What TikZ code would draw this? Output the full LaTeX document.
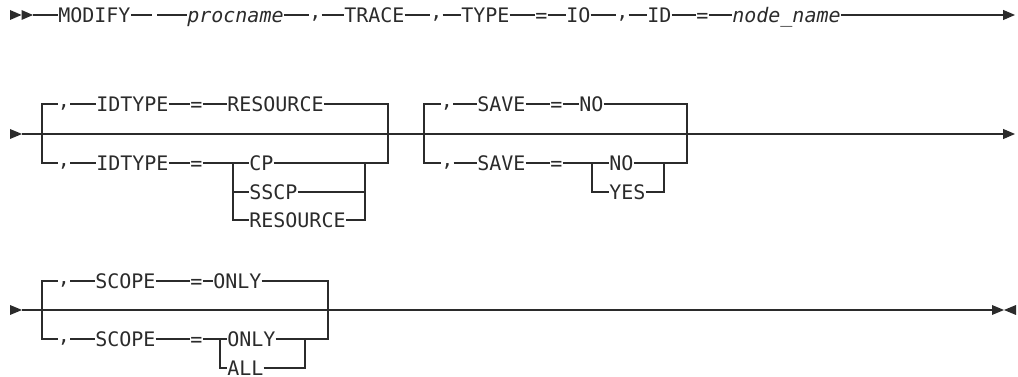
\documentclass[tikz,border=0pt]{standalone}
\usepackage{fontspec}
\setmonofont{DejaVu Sans Mono}
\usepackage{xcolor}
\usepackage{tikz}
\usetikzlibrary{arrows.meta}

\definecolor{ink}{HTML}{2B2B2B}
\tikzset{
  kw/.style={anchor=west, inner sep=0pt, text height=10.9pt, text depth=0pt, text=ink, font=\ttfamily\fontsize{15}{18}\selectfont},
  var/.style={kw, font=\ttfamily\itshape\fontsize{15}{18}\selectfont},
  rail/.style={draw=ink, line width=0.9pt},
  endarrow/.style={-{Triangle[length=9pt,width=7.5pt]}},
}
\newcommand{\cm}{\raisebox{2.5pt}{,}}

\begin{document}
\begin{tikzpicture}[x=0.75pt, y=-0.75pt]
            \useasboundingbox (0,0) rectangle (1018,377);

            % first line
            \fill[ink] (10,10) -- (21.5,15) -- (10,20) -- cycle;
            \fill[ink] (21.5,10) -- (33,15) -- (21.5,20) -- cycle;
            \coordinate (r1s) at (33,15);
            \node[kw] (modify) at (58,15) {MODIFY};
            \coordinate (gapl) at (152,15);
            \coordinate (gapr) at (157,15);
            \node[var] (procname) at (187,15) {procname};
            \node[kw] (tc1) at (309,15) {\cm};
            \node[kw] (trace) at (344,15) {TRACE};
            \node[kw] (tc2) at (430,15) {\cm};
            \node[kw] (type) at (461,15) {TYPE};
            \node[kw] (teq) at (535,15) {=};
            \node[kw] (io) at (566,15) {IO};
            \node[kw] (tc3) at (616,15) {\cm};
            \node[kw] (id) at (647,15) {ID};
            \node[kw] (deq) at (696,15) {=};
            \node[var] (nodename) at (732,15) {node\_name};
            \coordinate (r1e) at (1015,15);

            \draw[rail] (r1s) -- (modify.west) (modify.east) -- (gapl)
              (gapr) -- (procname.west) (procname.east) -- (tc1.west)
              (tc1.east) -- (trace.west) (trace.east) -- (tc2.west)
              (tc2.east) -- (type.west) (type.east) -- (teq.west)
              (teq.east) -- (io.west) (io.east) -- (tc3.west)
              (tc3.east) -- (id.west) (id.east) -- (deq.west)
              (deq.east) -- (nodename.west);
            \draw[rail, endarrow] (nodename.east) -- (r1e);

            % second line
            \fill[ink] (10,129) -- (22,134) -- (10,139) -- cycle;
            \coordinate (r2s) at (22,134);
            \coordinate (r2e) at (1015,134);
            \draw[rail, endarrow] (r2s) -- (r2e);

            % IDTYPE
            \coordinate (b1l) at (42,134);
            \coordinate (b1r) at (388,134);
            \node[kw] (ic1) at (57.5,104) {\cm};
            \node[kw] (idtype1) at (96,104) {IDTYPE};
            \node[kw] (ieq1) at (190,104) {=};
            \node[kw] (resource1) at (227,104) {RESOURCE};
            \draw[rail] (b1l) |- (ic1.west) (ic1.east) -- (idtype1.west)
              (idtype1.east) -- (ieq1.west) (ieq1.east) -- (resource1.west)
              (resource1.east) -| (b1r);

            \node[kw] (ic2) at (57.5,163) {\cm};
            \node[kw] (idtype2) at (96,163) {IDTYPE};
            \node[kw] (ieq2) at (190,163) {=};
            \coordinate (ij) at (233,163);
            \node[kw] (cp) at (249,163) {CP};
            \node[kw] (sscp) at (249,192) {SSCP};
            \node[kw] (resource2) at (249,220) {RESOURCE};
            \coordinate (ik) at (365,163);
            \draw[rail] (b1l) |- (ic2.west) (ic2.east) -- (idtype2.west)
              (idtype2.east) -- (ieq2.west) (ieq2.east) -- (ij) -- (cp.west)
              (cp.east) -- (ik) -| (b1r);
            \foreach \n in {sscp,resource2}
              \draw[rail] (ij) |- (\n.west) (\n.east) -| (ik);

            % SAVE
            \coordinate (b2l) at (424,134);
            \coordinate (b2r) at (687,134);
            \node[kw] (sc1) at (440.5,104) {\cm};
            \node[kw] (save1) at (477,104) {SAVE};
            \node[kw] (seq1) at (550,104) {=};
            \node[kw] (no1) at (579,104) {NO};
            \draw[rail] (b2l) |- (sc1.west) (sc1.east) -- (save1.west)
              (save1.east) -- (seq1.west) (seq1.east) -- (no1.west)
              (no1.east) -| (b2r);

            \node[kw] (sc2) at (441,163) {\cm};
            \node[kw] (save2) at (477,163) {SAVE};
            \node[kw] (seq2) at (550,163) {=};
            \coordinate (sj) at (592,163);
            \node[kw] (no2) at (609,163) {NO};
            \node[kw] (yes) at (609,192) {YES};
            \coordinate (sk) at (664,163);
            \draw[rail] (b2l) |- (sc2.west) (sc2.east) -- (save2.west)
              (save2.east) -- (seq2.west) (seq2.east) -- (sj) -- (no2.west)
              (no2.east) -- (sk) -| (b2r);
            \draw[rail] (sj) |- (yes.west) (yes.east) -| (sk);

            % third line
            \fill[ink] (10,305) -- (22,310) -- (10,315) -- cycle;
            \coordinate (r3s) at (22,310);
            \coordinate (r3e) at (992,310);
            \draw[rail] (r3s) -- (r3e);
            \fill[ink] (992,305) -- (1004,310) -- (992,315) -- cycle;
            \fill[ink] (1016,305) -- (1004,310) -- (1016,315) -- cycle;
            \coordinate (th1) at (333,310);
            \coordinate (th2) at (358,310);
            \draw[ink, line width=1.8pt] (th1) -- (th2);

            % SCOPE
            \coordinate (b3l) at (42,310);
            \coordinate (b3r) at (328,310);
            \node[kw] (pc1) at (57.5,281) {\cm};
            \node[kw] (scope1) at (95,281) {SCOPE};
            \node[kw] (peq1) at (190,281) {=};
            \node[kw] (only1) at (213,281) {ONLY};
            \draw[rail] (b3l) |- (pc1.west) (pc1.east) -- (scope1.west)
              (scope1.east) -- (peq1.west) (peq1.east) -- (only1.west)
              (only1.east) -| (b3r);

            \node[kw] (pc2) at (57.5,339) {\cm};
            \node[kw] (scope2) at (95,339) {SCOPE};
            \node[kw] (peq2) at (190,339) {=};
            \coordinate (pj) at (220,339);
            \node[kw] (only2) at (227,339) {ONLY};
            \node[kw] (all) at (227,368) {ALL};
            \coordinate (pk) at (305,339);
            \draw[rail] (b3l) |- (pc2.west) (pc2.east) -- (scope2.west)
              (scope2.east) -- (peq2.west) (peq2.east) -- (pj) -- (only2.west)
              (only2.east) -- (pk) -| (b3r);
            \draw[rail] (pj) |- (all.west) (all.east) -| (pk);
\end{tikzpicture}
\end{document}
